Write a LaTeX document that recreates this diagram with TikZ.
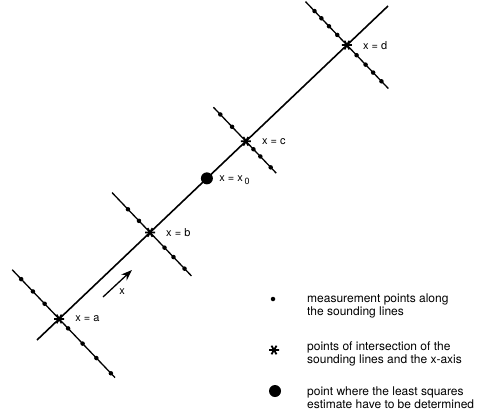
\documentclass[tikz,border=0pt]{standalone}
\usepackage{fontspec}
\setmainfont{TeX Gyre Heros}
\usetikzlibrary{positioning,arrows.meta,calc}
\tikzset{
  axisline/.style={line width=1.6pt},
  sndline/.style={line width=1.3pt},
  meas/.style={circle,fill,inner sep=0pt,minimum size=4.5pt},
  bigdot/.style={circle,fill,inner sep=0pt,minimum size=12pt},
  lbl/.style={font=\fontsize{11}{12}\selectfont,inner sep=2pt},
  legtxt/.style={font=\fontsize{12}{13}\selectfont,align=left,anchor=west,inner sep=0pt},
  ast/.pic={\draw[line width=1.8pt] (-5,0)--(5,0) (-2.5,-4.3)--(2.5,4.3) (-2.5,4.3)--(2.5,-4.3);},
}

\begin{document}
\begin{tikzpicture}[x=1pt,y=-1pt]
  \useasboundingbox (0,0) rectangle (486,417);
  % x-axis and the sounding lines across it
  \coordinate (A0) at (37,340);
  \coordinate (A1) at (388,6);
  \draw[axisline] (A0) -- (A1)
    coordinate[pos=0.063] (sa) coordinate[pos=0.322] (sb)
    coordinate[pos=0.484] (x0c) coordinate[pos=0.595] (sc)
    coordinate[pos=0.883] (sd);
  \foreach \n/\lo/\hi/\ds in {sa/-68/81/{-55,-38,-21,13,34,54,75},
      sb/-55/60/{-32,-16,21,34,50},
      sc/-47/44/{-37,-20,11,21,36},
      sd/-60/60/{-47,-37,-26,-14,14,27,38,50}}{
    \coordinate (\n-lo) at ($(\n)+(\lo*0.69,\lo*0.724)$);
    \coordinate (\n-hi) at ($(\n)+(\hi*0.69,\hi*0.724)$);
    \draw[sndline] (\n-lo) -- (\n-hi);
    \foreach \d [count=\i] in \ds
      \node[meas] (\n-\i) at ($(\n)+(\d*0.69,\d*0.724)$) {};
    \pic at (\n) {ast};
  }
  \node[bigdot] (x0) at (x0c) {};
  \node[lbl,right=14pt of sa] (la) {x = a};
  \node[lbl,right=14pt of sb] (lb) {x = b};
  \node[lbl,right=14pt of sc] (lc) {x = c};
  \node[lbl,right=14pt of sd] (ld) {x = d};
  \node[lbl,right=4pt of x0,yshift=-2pt] (lx0) {x = x\,\raisebox{-3pt}{\fontsize{9}{9}\selectfont 0}};
  % direction of x
  \coordinate (ar0) at (103,297);
  \coordinate (ar1) at (132,270);
  \draw[-{Stealth[length=11pt,width=8pt]},line width=1.3pt] (ar0) -- (ar1);
  \node[lbl] (xl) at (122,292) {x};
  % legend
  \node[meas,minimum size=4.5pt] (m1) at (273,299) {};
  \node[legtxt] (t1) at (307,306) {measurement points along\\the sounding lines};
  \coordinate (m2) at (274,350);
  \pic at (m2) {ast};
  \node[legtxt] (t2) at (307,354) {points of intersection of the\\sounding lines and the x-axis};
  \node[bigdot] (m3) at (275,391) {};
  \node[legtxt] (t3) at (307,398) {point where the least squares\\estimate have to be determined};
\end{tikzpicture}
\end{document}
